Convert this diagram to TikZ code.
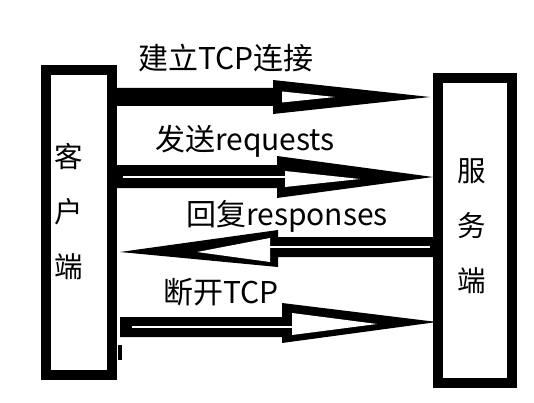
\documentclass[tikz,border=0pt]{standalone}
\usepackage{fontspec}
\newfontfamily\cjkfont{Noto Sans CJK SC}
\usetikzlibrary{calc}
\begin{document}
\begin{tikzpicture}[x=1pt,y=1pt,
  box/.style={draw=black, line width=10pt, inner sep=0pt, fill=white},
  lbl/.style={font=\cjkfont\fontsize{30}{34}\selectfont, inner sep=0pt},
  vtext/.style={font=\cjkfont\fontsize{28.5}{55}\selectfont, align=center, inner sep=0pt},
  hollow/.style={fill=white}]
\useasboundingbox (0,0) rectangle (534,402);
\fill[white] (0,0) rectangle (534,402);
% boxes
\node[box, minimum width=66pt, minimum height=305pt] (client) at (79,179.5) {};
\node[box, minimum width=74pt, minimum height=305pt] (server) at (475,171.5) {};
\node[vtext] (ctext) at (69,190.5) {客\\户\\端};
\node[vtext] (stext) at (472,175.5) {服\\务\\端};
% arrow 1: client -> server
\fill let \p1=(client.east), \p2=(server.west) in
  (\x1-3pt,314pt) -- (273pt,314pt) -- (273pt,322pt) -- (\x2-3pt,305pt)
  -- (273pt,288pt) -- (273pt,296pt) -- (\x1-3pt,296pt) -- cycle;
\fill[hollow] (282,310.5) -- (335,305) -- (282,299.5) -- cycle;
% arrow 2: client -> server
\fill let \p1=(client.east), \p2=(server.west) in
  (\x1-2pt,237pt) -- (277pt,237pt) -- (277pt,246pt) -- (\x2,225pt)
  -- (277pt,204pt) -- (277pt,214pt) -- (\x1-2pt,214pt) -- cycle;
\fill[hollow] (123,224.3) rectangle (286,225.7);
\fill[hollow] (285,231) -- (360,223) -- (285,215) -- cycle;
% arrow 3: server -> client
\fill let \p1=(client.east), \p2=(server.west) in
  (\x2,165pt) -- (278pt,165pt) -- (278pt,172pt) -- (\x1+3pt,150pt)
  -- (278pt,135pt) -- (278pt,145pt) -- (\x2,145pt) -- cycle;
\fill[hollow] (269,154.3) rectangle (430,155.7);
\fill[hollow] (270,164) -- (197,150) -- (270,140) -- cycle;
% arrow 4: client -> server
\fill let \p1=(client.east), \p2=(server.west) in
  (\x1+3pt,85pt) -- (282pt,85pt) -- (282pt,99pt) -- (\x2+4pt,80pt)
  -- (282pt,59pt) -- (282pt,65pt) -- (\x1+3pt,65pt) -- cycle;
\fill[hollow] (132,74.3) rectangle (293,75.7);
\fill[hollow] (292,89) -- (377,78) -- (292,67) -- cycle;
% small mark
\fill (118,42) rectangle (122,57);
% labels
\node[lbl] (l1) at (226,344) {建立TCP连接};
\node[lbl] (l2) at (245,261) {发送requests};
\node[lbl] (l3) at (287,186) {回复responses};
\node[lbl] (l4) at (221,110) {断开TCP};
\end{tikzpicture}
\end{document}
